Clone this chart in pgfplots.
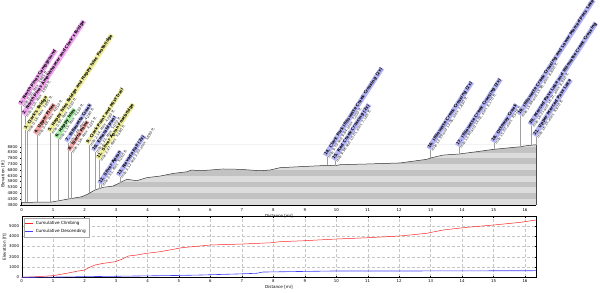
\documentclass[border=0pt]{standalone}
\usepackage{pgfplots}
\usepackage{pgfplotstable}
\pgfplotsset{compat=1.18}
\usepackage{fontspec}
\setmainfont{DejaVu Sans}
\definecolor{lpink}{HTML}{F2A6F2}
\definecolor{lyellow}{HTML}{EEEE9C}
\definecolor{lred}{HTML}{F2A6A6}
\definecolor{lgreen}{HTML}{A6EEA6}
\definecolor{lblue}{HTML}{B4B4F6}
\definecolor{bandlight}{HTML}{DCDCDC}
\definecolor{banddark}{HTML}{C2C2C2}

\pgfplotstableread{
mi elev
0 4000
0.95 4030
1.43 4265
1.91 4490
2.09 4700
2.33 5070
2.59 5300
2.91 5410
3.34 5990
3.66 5870
3.97 6130
4.40 6270
4.82 6500
5.25 6640
5.40 6790
5.67 6730
5.99 6790
6.41 6880
6.94 6850
7.58 6730
7.89 6790
8.21 6990
8.85 7080
9.48 7160
9.70 7200
9.96 7160
10.12 7250
10.97 7310
12.02 7400
12.87 7710
13.03 7850
13.40 8080
13.90 8170
14.46 8370
15.02 8580
15.86 8800
16.05 8890
16.35 8970
}\profile

\pgfplotstableread{
mi ft
0 0
0.48 60
1.0 160
1.43 390
1.80 610
2.01 710
2.09 870
2.33 1190
2.59 1350
2.97 1510
3.18 1740
3.39 2060
3.66 2160
3.97 2320
4.40 2480
4.82 2710
5.09 2870
5.67 3030
5.99 3130
7.0 3220
7.95 3350
8.21 3450
8.95 3540
10.01 3710
10.97 3830
12.02 4000
12.87 4260
13.40 4580
14.14 4840
14.99 5060
15.84 5320
16.35 5550
}\climb

\pgfplotstableread{
mi ft
0 0
1.0 20
2.0 60
3.0 100
4.0 140
5.0 180
5.67 220
6.83 320
7.47 390
7.67 510
9.9 610
12.0 610
16.35 640
}\descend

\newcommand{\lab}[6]{%
  \addplot[gray!75, line width=0.4pt] coordinates {(#1,#2) (#1,#3)};
  \node[rotate=57, anchor=north west, inner sep=0pt, yshift=4.9pt, align=left,
        font=\fontsize{4.1}{4.3}\selectfont]
    at (axis cs:#1,#3)
    {\fboxsep=0.5pt\colorbox{#4}{\bfseries #5}\\%
     {\fontsize{3.5}{3.6}\selectfont\color{black!90}#6}};
}

\begin{document}
\begin{tikzpicture}
\path[use as bounding box] (0pt,0pt) rectangle (600pt,292pt);

% ---------- elevation profile ----------
\begin{axis}[
  at={(21.7pt,87.3pt)}, anchor=south west,
  scale only axis, width=514.3pt, height=60.3pt,
  xmin=0, xmax=16.35, ymin=3800, ymax=9000,
  clip=false,
  axis x line*=bottom, axis y line*=left,
  axis line style={black, line width=0.4pt},
  xtick={0,1,...,16},
  ytick={3800,4300,4800,5300,5800,6300,6800,7300,7800,8300,8800},
  tick style={black, line width=0.3pt},
  major tick length=1.5pt,
  tick align=outside,
  /pgf/number format/assume math mode=true,
  /pgf/number format/1000 sep={},
  ticklabel style={font=\fontsize{3.9}{4.4}\selectfont},
  xticklabel style={yshift=1pt},
  yticklabel style={xshift=1pt},
  xlabel={Distance [mi]}, ylabel={Elevation [ft]},
  label style={font=\fontsize{4.1}{4.6}\selectfont},
  xlabel style={yshift=4pt},
  ylabel style={yshift=-4pt},
]
% bands
\addplot[fill=bandlight, draw=none] coordinates {(0,3800) (16.35,3800) (16.35,9000) (0,9000)} -- cycle;
\addplot[fill=banddark, draw=none] coordinates {(0,4300) (16.35,4300) (16.35,4800) (0,4800)} -- cycle;
\addplot[fill=banddark, draw=none] coordinates {(0,5300) (16.35,5300) (16.35,5800) (0,5800)} -- cycle;
\addplot[fill=banddark, draw=none] coordinates {(0,6300) (16.35,6300) (16.35,6800) (0,6800)} -- cycle;
\addplot[fill=banddark, draw=none] coordinates {(0,7300) (16.35,7300) (16.35,7800) (0,7800)} -- cycle;
\addplot[fill=banddark, draw=none] coordinates {(0,8300) (16.35,8300) (16.35,8800) (0,8800)} -- cycle;
% white above the profile
\addplot[fill=white, draw=none] coordinates {
(0,4000) (0.95,4030) (1.43,4265) (1.91,4490) (2.09,4700) (2.33,5070) (2.59,5300)
(2.91,5410) (3.34,5990) (3.66,5870) (3.97,6130) (4.40,6270) (4.82,6500) (5.25,6640)
(5.40,6790) (5.67,6730) (5.99,6790) (6.41,6880) (6.94,6850) (7.58,6730) (7.89,6790)
(8.21,6990) (8.85,7080) (9.48,7160) (9.70,7200) (9.96,7160) (10.12,7250) (10.97,7310)
(12.02,7400) (12.87,7710) (13.03,7850) (13.40,8080) (13.90,8170) (14.46,8370)
(15.02,8580) (15.86,8800) (16.05,8890) (16.35,8970) (16.36,9001) (-0.01,9001)} -- cycle;
% profile line
\addplot[black!80, line width=0.5pt] table[x=mi,y=elev] {\profile};
\addplot[black!70, line width=0.4pt] coordinates {(16.35,3800) (16.35,8970)};

% waypoints
\lab{0.00}{4000}{12308}{lpink}{1. North Pines Campground}{mile 0.00, elev. 3,985 ft.}
\lab{0.10}{4003}{11446}{lpink}{2. North Pines Amphitheater and Clark's Bridge}{mile 0.10, elev. 3,990 ft.}
\lab{0.16}{4005}{10153}{lyellow}{3. Clark's Bridge}{mile 0.16, elev. 3,995 ft.}
\lab{0.48}{4015}{9808}{lred}{4. Upper Pines}{mile 0.48, elev. 4,010 ft.}
\lab{0.92}{4030}{9981}{lyellow}{5. Happy Isles Bridge and Happy Isles Footbridge}{mile 0.92, elev. 4,030 ft.}
\lab{1.15}{4130}{9464}{lgreen}{6. Happy Isles}{mile 1.15, elev. 4,130 ft.}
\lab{1.48}{4290}{9119}{lblue}{7. Illilouette Creek}{mile 1.48, elev. 4,290 ft.}
\lab{1.56}{4325}{8343}{lred}{8. Sierra Point}{mile 1.56, elev. 4,325 ft.}
\lab{2.14}{4780}{8946}{lyellow}{9. Clark Point and Mist Trail}{mile 2.14, elev. 4,780 ft.}
\lab{2.33}{5070}{8343}{lblue}{10. Emerald Pool}{mile 2.33, elev. 5,070 ft.}
\lab{2.47}{5190}{7653}{lyellow}{11. Silver Apron Footbridge}{mile 2.47, elev. 5,190 ft.}
\lab{2.53}{5250}{5498}{lblue}{12. Silver Apron}{mile 2.53, elev. 5,250 ft.}
\lab{3.12}{5690}{6188}{lblue}{13. Nevada Fall (2x)}{mile 3.12 and 3.20, elev. 5,690 ft.}
\lab{9.70}{7200}{7912}{lblue}{14. Clark Fork Illilouette Creek Crossing (2x)}{mile 9.70 and 9.84, elev. 7,200 ft.}
\lab{9.96}{7160}{7567}{lblue}{15. Red Creek Crossing (2x)}{mile 9.96 and 10.01, elev. 7,185 ft.}
\lab{12.99}{7830}{8515}{lblue}{16. Illilouette Creek Crossing (2x)}{mile 12.99 and 13.05, elev. 7,830 ft.}
\lab{13.90}{8170}{8774}{lblue}{17. Illilouette Creek Crossing (2x)}{mile 13.90 and 14.02, elev. 8,170 ft.}
\lab{15.02}{8580}{9119}{lblue}{18. Ottoway Creek}{mile 15.02, elev. 8,578 ft.}
\lab{15.86}{8800}{11446}{lblue}{19. Illilouette Creek Crossing and Lower Merced Pass Lake}{mile 15.86 and 15.90, elev. 8,800 ft.}
\lab{16.21}{8930}{10584}{lblue}{20. Merced Pass Lake and Illilouette Creek Crossing}{mile 16.21 and 16.27, elev. 8,930 ft.}
\lab{16.35}{8970}{9636}{lblue}{21. Upper Merced Pass Lake}{mile 16.35, elev. 8,970 ft.}
\end{axis}

% ---------- cumulative climbing / descending ----------
\begin{axis}[
  at={(21.7pt,14.7pt)}, anchor=south west,
  scale only axis, width=514.3pt, height=60.6pt,
  xmin=0, xmax=16.35, ymin=0, ymax=5870,
  xtick={0,1,...,16},
  ytick={0,1000,2000,3000,4000,5000},
  grid=major,
  grid style={densely dashed, gray!45, line width=0.3pt},
  axis line style={black, line width=0.4pt},
  tick style={black, line width=0.3pt},
  major tick length=1.5pt,
  tick align=inside,
  /pgf/number format/assume math mode=true,
  /pgf/number format/1000 sep={},
  ticklabel style={font=\fontsize{3.9}{4.4}\selectfont},
  xticklabel style={yshift=1pt},
  yticklabel style={xshift=1pt},
  xlabel={Distance [mi]}, ylabel={Elevation [ft]},
  label style={font=\fontsize{4.1}{4.6}\selectfont},
  xlabel style={yshift=4pt},
  ylabel style={yshift=-4pt},
  legend style={at={(0.004,0.985)}, anchor=north west,
    font=\fontsize{4.2}{4.6}\selectfont, draw=gray!70, line width=0.4pt,
    inner sep=1.2pt, row sep=-0.5pt, cells={anchor=west}},
  legend image code/.code={\draw[#1] (0pt,0pt) -- (8pt,0pt);},
]
\addplot[red!85!white, line width=0.5pt] table[x=mi,y=ft] {\climb};
\addlegendentry{Cumulative Climbing}
\addplot[blue!75!white, line width=0.6pt] table[x=mi,y=ft] {\descend};
\addlegendentry{Cumulative Descending}
\end{axis}
\end{tikzpicture}
\end{document}
